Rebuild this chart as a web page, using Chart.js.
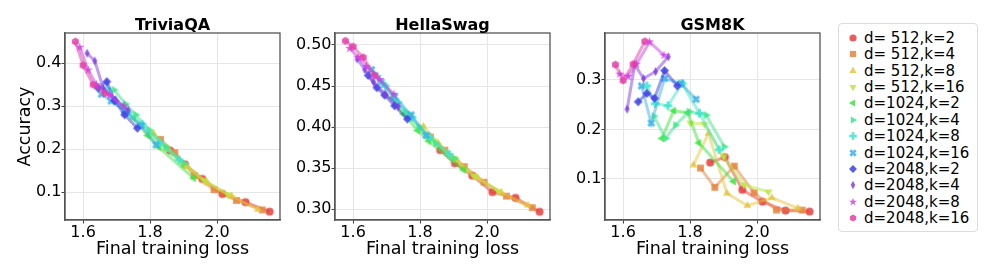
<!DOCTYPE html>
<html>
<head>
<meta charset="utf-8">
<script src="https://cdn.jsdelivr.net/npm/chart.js@4/dist/chart.umd.min.js"></script>
<style>
    body { margin: 0; width: 997px; height: 277px; background: #fff; position: relative; overflow: hidden; font-family: 'DejaVu Sans', sans-serif; }
    canvas.panel { position: absolute; top: 0; }
    #legend { position: absolute; left: 838px; top: 23px; width: 140px; height: 209px; border: 1px solid #dcdcdc; border-radius: 4px; box-sizing: border-box; }
    .row { position: absolute; left: 0; height: 16px; display: flex; align-items: center; font-size: 15px; color: #000; white-space: pre; }
    .row canvas { position: absolute; left: 6px; }
    .row span { position: absolute; left: 25px; line-height: 16px; }
</style>
</head>
<body>
<canvas class="panel" id="trivia" width="290" height="277" style="left:0px"></canvas>
<canvas class="panel" id="hella" width="280" height="277" style="left:280px"></canvas>
<canvas class="panel" id="gsm" width="270" height="277" style="left:560px"></canvas>
<div id="legend"></div>
<script>
const seriesNames = ['d= 512,k=2', 'd= 512,k=4', 'd= 512,k=8', 'd= 512,k=16',
    'd=1024,k=2', 'd=1024,k=4', 'd=1024,k=8', 'd=1024,k=16',
    'd=2048,k=2', 'd=2048,k=4', 'd=2048,k=8', 'd=2048,k=16']
const markers = ['o', 's', '^', 'v', '<', '>', 'P', 'X', 'D', 'd', '*', 'h']
const hues = [1, 25, 49, 75, 120, 148, 172, 198, 240, 265, 292, 322]

// final training loss, shared by all three benchmarks
const lossX = [
    [1.860, 1.904, 1.956, 2.016, 2.085, 2.157],
    [1.831, 1.874, 1.932, 1.991, 2.058, 2.135],
    [1.810, 1.855, 1.910, 1.971, 2.044, 2.122],
    [1.801, 1.843, 1.900, 1.961, 2.034],
    [1.716, 1.751, 1.793, 1.826, 1.930],
    [1.692, 1.727, 1.757, 1.797, 1.848, 1.902],
    [1.671, 1.696, 1.734, 1.776, 1.828, 1.887],
    [1.655, 1.684, 1.724, 1.773, 1.818],
    [1.645, 1.671, 1.694, 1.724, 1.762],
    [1.612, 1.635, 1.661, 1.697, 1.735],
    [1.590, 1.615, 1.640, 1.679, 1.722],
    [1.577, 1.600, 1.630, 1.665]
]
const triviaY = [
    [0.197, 0.165, 0.131, 0.096, 0.077, 0.055],
    [0.223, 0.192, 0.139, 0.106, 0.081, 0.059],
    [0.237, 0.200, 0.160, 0.122, 0.091, 0.060],
    [0.235, 0.206, 0.165, 0.128, 0.094],
    [0.300, 0.272, 0.232, 0.205, 0.133],
    [0.338, 0.305, 0.280, 0.245, 0.205, 0.167],
    [0.340, 0.312, 0.285, 0.258, 0.215, 0.175],
    [0.328, 0.312, 0.290, 0.255, 0.210],
    [0.342, 0.357, 0.313, 0.280, 0.249],
    [0.423, 0.405, 0.340, 0.315, 0.290],
    [0.437, 0.384, 0.350, 0.325, 0.300],
    [0.450, 0.395, 0.350, 0.330]
]
const hellaY = [
    [0.372, 0.356, 0.341, 0.321, 0.314, 0.297],
    [0.388, 0.372, 0.352, 0.333, 0.316, 0.302],
    [0.401, 0.380, 0.360, 0.339, 0.320, 0.305],
    [0.400, 0.383, 0.362, 0.340, 0.322],
    [0.436, 0.416, 0.396, 0.383, 0.348],
    [0.452, 0.432, 0.418, 0.400, 0.380, 0.362],
    [0.462, 0.450, 0.430, 0.412, 0.388, 0.367],
    [0.470, 0.455, 0.437, 0.415, 0.390],
    [0.463, 0.448, 0.439, 0.426, 0.410],
    [0.483, 0.470, 0.455, 0.440, 0.425],
    [0.496, 0.485, 0.474, 0.458, 0.440],
    [0.505, 0.498, 0.485, 0.463]
]
const gsmY = [
    [0.133, 0.144, 0.078, 0.054, 0.036, 0.034],
    [0.122, 0.083, 0.126, 0.072, 0.037, 0.037],
    [0.128, 0.192, 0.071, 0.046, 0.062, 0.041],
    [0.213, 0.211, 0.145, 0.088, 0.074],
    [0.182, 0.238, 0.234, 0.173, 0.095],
    [0.227, 0.182, 0.209, 0.236, 0.229, 0.165],
    [0.288, 0.252, 0.248, 0.293, 0.233, 0.159],
    [0.288, 0.213, 0.303, 0.293, 0.261],
    [0.256, 0.273, 0.263, 0.319, 0.288],
    [0.241, 0.331, 0.303, 0.317, 0.347],
    [0.312, 0.307, 0.332, 0.377, 0.350],
    [0.331, 0.299, 0.332, 0.378]
]

const xTicks = [1.6, 1.8, 2.0]
const triviaTicks = [0.1, 0.2, 0.3, 0.4]
const hellaTicks = [0.30, 0.35, 0.40, 0.45, 0.50]
const gsmTicks = [0.1, 0.2, 0.3]

const FONT = "'DejaVu Sans', sans-serif"
const color = (i, a) => `hsla(${hues[i]}, 76%, 57%, ${a})`

// marker outlines as polygon corners (angle in degrees, radius factor)
function polygon(n, start, rf) {
    const pts = []
    for (let k = 0; k < n; k++) pts.push([start + k * 360 / n, rf])
    return pts
}
function star() {
    const pts = []
    for (let k = 0; k < 10; k++) pts.push([-90 + k * 36, k % 2 ? 0.45 : 1.2])
    return pts
}
function cross(rot) {
    const w = 0.38, l = 1.05
    const raw = [[w, l], [w, w], [l, w], [l, -w], [w, -w], [w, -l], [-w, -l], [-w, -w], [-l, -w], [-l, w], [-w, w], [-w, l]]
    const c = Math.cos(rot), s = Math.sin(rot)
    return raw.map(([x, y]) => [x * c - y * s, x * s + y * c])
}

function markerCanvas(shape, fill, r) {
    const size = Math.ceil(r * 2.6 + 2)
    const c = document.createElement('canvas')
    c.width = size
    c.height = size
    const ctx = c.getContext('2d')
    ctx.translate(size / 2, size / 2)
    ctx.fillStyle = fill
    ctx.beginPath()
    let polar = null
    let xy = null
    if (shape === 'o') ctx.arc(0, 0, r, 0, Math.PI * 2)
    else if (shape === 's') ctx.rect(-r * 0.85, -r * 0.85, r * 1.7, r * 1.7)
    else if (shape === '^') polar = polygon(3, -90, 1.15)
    else if (shape === 'v') polar = polygon(3, 90, 1.15)
    else if (shape === '<') polar = polygon(3, 180, 1.15)
    else if (shape === '>') polar = polygon(3, 0, 1.15)
    else if (shape === 'D') polar = polygon(4, 0, 1.1)
    else if (shape === 'h') polar = polygon(6, -90, 1.0)
    else if (shape === '*') polar = star()
    else if (shape === 'P') xy = cross(0)
    else if (shape === 'X') xy = cross(Math.PI / 4)
    else if (shape === 'd') xy = [[0, -1.15], [0.62, 0], [0, 1.15], [-0.62, 0]]
    if (polar) xy = polar.map(([a, f]) => [Math.cos(a * Math.PI / 180) * f, Math.sin(a * Math.PI / 180) * f])
    if (xy) xy.forEach(([x, y], k) => k ? ctx.lineTo(x * r, y * r) : ctx.moveTo(x * r, y * r))
    ctx.closePath()
    ctx.fill()
    return c
}

// box round the plot and the panel title centred over the plot area
const frame = {
    id: 'frame',
    afterDraw(chart, args, opts) {
        const {ctx, chartArea: a} = chart
        ctx.save()
        ctx.strokeStyle = '#555'
        ctx.lineWidth = 1.3
        ctx.strokeRect(a.left, a.top, a.right - a.left, a.bottom - a.top)
        ctx.fillStyle = '#000'
        ctx.font = `bold 16px ${FONT}`
        ctx.textAlign = 'center'
        ctx.textBaseline = 'alphabetic'
        ctx.fillText(opts.title, (a.left + a.right) / 2, 30)
        ctx.restore()
    }
}

function makePanel(id, title, ys, yTicks, yMin, yMax, yWidth, yTitle, decimals) {
    const datasets = ys.map((vals, i) => ({
        label: seriesNames[i],
        data: lossX[i].map((x, j) => ({x: x, y: vals[j]})),
        showLine: true,
        borderColor: color(i, 0.5),
        borderWidth: 3,
        pointStyle: markerCanvas(markers[i], color(i, 0.85), 4),
        order: ys.length - i
    }))
    return new Chart(document.getElementById(id), {
        type: 'scatter',
        data: {datasets: datasets},
        options: {
            responsive: false,
            animation: false,
            layout: {padding: {left: 0, right: 10, top: 33, bottom: 0}},
            plugins: {
                legend: {display: false},
                tooltip: {enabled: false},
                frame: {title: title}
            },
            scales: {
                x: {
                    type: 'linear',
                    min: 1.546,
                    max: 2.188,
                    afterBuildTicks: scale => { scale.ticks = xTicks.map(v => ({value: v})) },
                    afterFit: scale => { scale.height = 57 },
                    grid: {color: '#e6e6e6', tickColor: '#444', tickLength: 3.5},
                    border: {color: '#555', width: 1.3},
                    ticks: {color: '#000', padding: 0, font: {family: FONT, size: 16}, callback: v => v.toFixed(1)},
                    title: {display: true, text: 'Final training loss', color: '#000',
                        font: {family: FONT, size: 17.5, lineHeight: 1.2}, padding: {top: 0, bottom: 17}}
                },
                y: {
                    type: 'linear',
                    min: yMin,
                    max: yMax,
                    afterBuildTicks: scale => { scale.ticks = yTicks.map(v => ({value: v})) },
                    afterFit: scale => { scale.width = yWidth },
                    grid: {color: '#e6e6e6', tickColor: '#444', tickLength: 3.5},
                    border: {color: '#555', width: 1.3},
                    ticks: {color: '#000', padding: 0, font: {family: FONT, size: 16}, callback: v => v.toFixed(decimals)},
                    title: {display: !!yTitle, text: yTitle, color: '#000',
                        font: {family: FONT, size: 17.5, lineHeight: 1.2}, padding: {top: 15, bottom: 0}}
                }
            }
        },
        plugins: [frame]
    })
}

makePanel('trivia', 'TriviaQA', triviaY, triviaTicks, 0.0356, 0.470, 65, 'Accuracy', 1)
makePanel('hella', 'HellaSwag', hellaY, hellaTicks, 0.287, 0.5146, 55, '', 2)
makePanel('gsm', 'GSM8K', gsmY, gsmTicks, 0.017, 0.395, 45, '', 1)

const legend = document.getElementById('legend')
seriesNames.forEach((name, i) => {
    const row = document.createElement('div')
    row.className = 'row'
    row.style.top = (5.7 + i * 16.4) + 'px'
    const m = markerCanvas(markers[i], color(i, 0.85), 3.6)
    m.style.top = (8 - m.height / 2) + 'px'
    m.style.left = (14 - m.width / 2) + 'px'
    const t = document.createElement('span')
    t.textContent = name
    row.appendChild(m)
    row.appendChild(t)
    legend.appendChild(row)
})
</script>
</body>
</html>
